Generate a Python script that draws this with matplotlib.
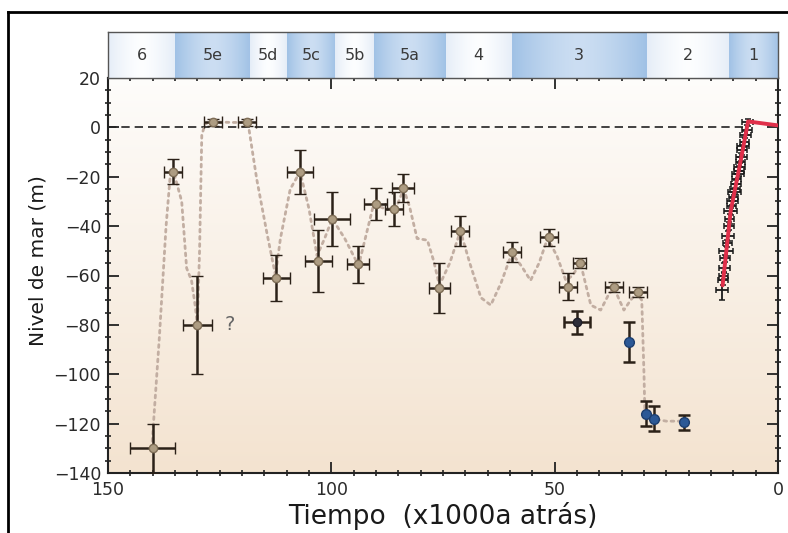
import numpy as np
import matplotlib
matplotlib.use("Agg")
import matplotlib.pyplot as plt
from matplotlib.lines import Line2D
from matplotlib.ticker import MultipleLocator

plt.rcParams['font.family'] = ['DejaVu Sans']

# ---------------- data ----------------
stage_edges = [150, 135, 118.2, 110, 99.1, 90.5, 74.4, 59.6, 29.4, 11, 0]
stage_labels = ['6', '5e', '5d', '5c', '5b', '5a', '4', '3', '2', '1']
stage_blue = [False, True, False, True, False, True, False, True, False, True]

# tan markers with error bars
pt_age = [140, 135.5, 130, 126.5, 118.8, 112.3, 107, 102.9, 99.8, 94, 90.1,
          85.9, 83.9, 75.8, 71.1, 59.6, 51.3, 47.1, 44.4, 36.8, 31.4]
pt_level = [-130, -18, -80, 2, 2, -61, -18, -54, -37, -55.5, -31,
            -33, -24.5, -65, -42, -50.5, -44.5, -64.5, -55, -64.8, -66.8]
pt_xerr = [5, 2, 3.3, 2, 2, 3, 3, 3, 4, 2.5, 2.5, 2, 2.5, 2.3, 2, 2, 2, 2, 1.5, 2, 2]
pt_yerr = [10, 5, 20, 1.5, 1.5, 9.5, 9, 12.5, 11, 7.5, 6.5, 7, 5.7, 10, 6, 4, 3.5, 5.5, 2, 2, 2]

# dark point
dk_age = [45]
dk_level = [-79]
dk_xerr = [3]
dk_yerr = [4.5]

# blue points
bl_age = [33.4, 29.6, 27.8, 21.1]
bl_level = [-87, -116, -118, -119.4]
bl_yerr = [8, 5, 5, 3]

# dotted model curve
curve_age = [140.2, 138.5, 137, 136, 135, 133.5, 132.4, 131.3, 130.5, 130, 129.5, 129,
             128.2, 126.5, 122, 119, 118.5, 116.7, 114.4, 112.5, 111.4, 109.2, 107, 105,
             103.2, 101.5, 99.8, 97, 93.9, 92, 90.5, 88, 85.6, 83.8, 82.5, 80.8, 78.5,
             77.1, 75.8, 73.5, 71.1, 69, 66.5, 64.3, 62, 59.6, 57.5, 55.4, 53.5, 51.6,
             49.5, 47.5, 46, 44.2, 43, 41.9, 39.7, 38, 36.7, 35.5, 34.5, 33, 31.6, 30.5,
             30, 29.8, 28.1, 25, 21]
curve_level = [-130, -85, -40, -18, -20, -30, -57, -62, -72, -80, -50, -3,
               1.6, 2.2, 2, 2, 0, -21, -43, -60, -45, -25, -18, -33,
               -52, -45, -37, -45, -56, -42, -31, -33, -33, -25, -32, -45, -45.7,
               -54, -64, -55, -42, -55, -69, -72, -63, -51, -56, -62, -55, -45,
               -52, -62, -60, -55, -64, -72, -74, -68, -65, -70, -74, -70, -67, -70,
               -100, -116, -118, -119, -119]

# Holocene coral data (black crosses) and red curve
hol_age = [12.5, 12.3, 12.2, 12.0, 11.8, 11.6, 11.4, 11.2, 11.0, 10.8, 10.6, 10.4,
           10.2, 10.0, 9.8, 9.6, 9.4, 9.2, 9.0, 8.8, 8.6, 8.4, 8.2, 8.0, 7.8, 7.6,
           7.3, 7.0, 6.8]
hol_level = [-66, -62, -60, -57, -53, -50, -47, -44, -40, -37, -34, -32,
             -30, -28, -26, -25, -23, -21, -19, -17.5, -16, -14, -12, -9, -7.5, -6,
             -3, -1, 2]
hol_xerr = [1.4, 1.2, 1.0, 1.3, 1.1, 1.5, 1.0, 1.3, 1.2, 1.0, 1.4, 1.1,
            1.3, 1.0, 1.5, 1.1, 1.2, 1.0, 1.4, 1.1, 1.3, 1.0, 1.2, 1.1, 1.4, 1.0,
            1.2, 1.1, 1.3]
hol_yerr = [4, 2, 1.5, 2, 1.5, 2, 1.5, 2, 1.5, 2, 1.5, 2,
            1.5, 2, 1.5, 2, 1.5, 2, 1.5, 2, 1.5, 2, 1.5, 2, 1.5, 2,
            1.5, 2, 1.5]
red_age = [12.4, 10.6, 8.3, 6.7, 0]
red_level = [-64, -34, -13, 2.4, 0.8]

# ---------------- figure ----------------
W, H = 788, 533
fig = plt.figure(figsize=(W / 100, H / 100), dpi=100)

def fx(px):
    return px / W

def fy(py):
    return 1 - py / H

ax = fig.add_axes([fx(108), fy(473), fx(778) - fx(108), fy(78) - fy(473)])
axb = fig.add_axes([fx(108), fy(78), fx(778) - fx(108), fy(32) - fy(78)])

# background gradient
grad = np.linspace(0, 1, 256).reshape(-1, 1)
top_c = np.array([0.995, 0.990, 0.983])
bot_c = np.array([0.955, 0.890, 0.815])
img = top_c[None, None, :] * (1 - grad[..., None]) + bot_c[None, None, :] * grad[..., None]
ax.imshow(img, extent=[150, 0, -140, 20], aspect='auto', zorder=0, origin='upper')

# stage bands
for i, lab in enumerate(stage_labels):
    a0, a1 = stage_edges[i], stage_edges[i + 1]
    if stage_blue[i]:
        c_edge = np.array([0.63, 0.76, 0.90])
        c_mid = np.array([0.80, 0.87, 0.95])
    else:
        c_edge = np.array([0.90, 0.93, 0.97])
        c_mid = np.array([0.99, 0.995, 1.0])
    g = np.abs(np.linspace(-1, 1, 64)).reshape(1, -1) ** 1.5
    bimg = c_mid[None, None, :] * (1 - g[..., None]) + c_edge[None, None, :] * g[..., None]
    axb.imshow(bimg, extent=[a0, a1, 0, 1], aspect='auto', zorder=0)
    axb.text((a0 + a1) / 2, 0.5, lab, ha='center', va='center', fontsize=11.5,
             color='#3a3a3a', zorder=3)
axb.set_xlim(150, 0)
axb.set_ylim(0, 1)
axb.set_xticks([])
axb.set_yticks([])
for s in axb.spines.values():
    s.set_color('#555555')
    s.set_linewidth(1.0)

# zero line
ax.plot([150, 6.7], [0, 0], color='#222222', lw=1.2, ls=(0, (5, 3)), zorder=2)

# dotted curve
ax.plot(curve_age, curve_level, color='#c2aea2', lw=2.0, ls=(0, (1, 1.6)),
        dash_capstyle='round', zorder=3)

# tan points
ax.errorbar(pt_age, pt_level, xerr=pt_xerr, yerr=pt_yerr, fmt='o', ms=6,
            mfc='#ad9c82', mec='#7e6d56', mew=1.0, ecolor='#2b2118', elinewidth=1.8,
            capsize=4.5, capthick=1.8, zorder=5)
ax.errorbar(dk_age, dk_level, xerr=dk_xerr, yerr=dk_yerr, fmt='o', ms=6,
            mfc='#2e2e3a', mec='#1e1e28', ecolor='#2b2118', elinewidth=1.8,
            capsize=4.5, capthick=1.8, zorder=5)
ax.errorbar(bl_age, bl_level, yerr=bl_yerr, fmt='o', ms=7,
            mfc='#2b5896', mec='#1d3e6e', ecolor='#2b2118', elinewidth=1.8,
            capsize=4.5, capthick=1.8, zorder=5)

# Holocene
ax.errorbar(hol_age, hol_level, xerr=hol_xerr, yerr=hol_yerr, fmt='none',
            ecolor='#1a1a1a', elinewidth=1.3, capsize=2, capthick=1.1, zorder=5)
ax.plot(red_age, red_level, color='#e0304a', lw=2.8, zorder=6, solid_capstyle='round')

ax.text(123.8, -80, '?', fontsize=14, color='#666666', ha='left', va='center', zorder=6)

# axes styling
ax.set_xlim(150, 0)
ax.set_ylim(-140, 20)
ax.xaxis.set_major_locator(MultipleLocator(50))
ax.xaxis.set_minor_locator(MultipleLocator(5))
ax.yaxis.set_major_locator(MultipleLocator(20))
ax.yaxis.set_minor_locator(MultipleLocator(5))
ax.tick_params(which='major', direction='in', length=8, width=1.3, color='#222222',
               top=True, right=True, labelsize=12.5, labelcolor='#2a2a2a')
ax.tick_params(which='minor', direction='inout', length=5, width=1.2, color='#222222',
               top=True, right=True)
ax.tick_params(axis='y', which='major', pad=5)
ax.tick_params(axis='x', which='major', pad=6)
for s in ax.spines.values():
    s.set_color('#222222')
    s.set_linewidth(1.5)

ax.set_xlabel('Tiempo  (x1000a atrás)', fontsize=19, color='#1a1a1a', labelpad=2)
ax.set_ylabel('Nivel de mar (m)', fontsize=14.5, color='#1a1a1a')
ax.yaxis.set_label_coords(-0.09, 0.537)

# outer frame (left and top)
fig.add_artist(Line2D([fx(8), fx(8)], [fy(12), 0], color='black', lw=2.0))
fig.add_artist(Line2D([fx(8), 1], [fy(12), fy(12)], color='black', lw=2.0))

fig.savefig('out.png', dpi=100)
